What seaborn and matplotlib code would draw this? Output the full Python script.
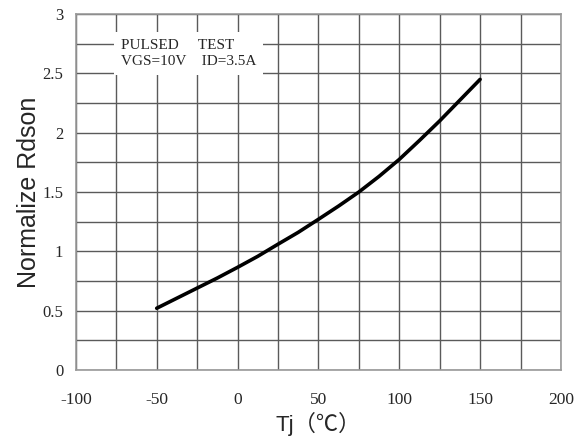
import matplotlib
matplotlib.use("Agg")
import matplotlib.pyplot as plt
import pandas as pd
import seaborn as sns

# values
TJ = [-50, -37.5, -25, -12.5, 0, 12.5, 25, 37.5, 50, 62.5, 75, 87.5, 100, 112.5, 125, 137.5, 150]
RDSON = [0.52, 0.605, 0.69, 0.775, 0.865, 0.958, 1.06, 1.16, 1.27, 1.382, 1.50, 1.632, 1.775, 1.935, 2.10, 2.275, 2.45]

X_TICKS = [-100, -50, 0, 50, 100, 150, 200]
Y_TICKS = [0, 0.5, 1, 1.5, 2, 2.5, 3]
Y_TICK_LABELS = ["0", "0.5", "1", "1.5", "2", "2.5", "3"]
X_GRID = list(range(-100, 201, 25))
Y_GRID = [i * 0.25 for i in range(13)]

NOTE = "PULSED     TEST\nVGS=10V    ID=3.5A"

sns.set_style("white")
plt.rcParams["font.family"] = ["Liberation Serif", "DejaVu Serif"]

df = pd.DataFrame({"Tj": TJ, "Rdson": RDSON})

fig, ax = plt.subplots(figsize=(5.88, 4.43), dpi=100)
fig.subplots_adjust(left=0.129, right=0.954, bottom=0.165, top=0.968)

for x in X_GRID:
    ax.axvline(x, color="#5a5a5a", linewidth=1.0, zorder=1)
for y in Y_GRID:
    ax.axhline(y, color="#5a5a5a", linewidth=1.0, zorder=1)

sns.lineplot(data=df, x="Tj", y="Rdson", color="black", linewidth=2.6, ax=ax, zorder=3)

ax.text(-72, 2.67, NOTE, fontsize=11, family="Liberation Serif", va="center",
        ha="left", linespacing=1.3, zorder=2,
        bbox=dict(facecolor="white", edgecolor="none", pad=5))

ax.set_xlim(-100, 200)
ax.set_ylim(0, 3)
ax.set_xticks(X_TICKS)
ax.set_xticklabels([str(v) for v in X_TICKS], fontsize=12.5)
ax.set_yticks(Y_TICKS)
ax.set_yticklabels(Y_TICK_LABELS, fontsize=12)
ax.tick_params(axis="x", length=0, pad=16)
ax.tick_params(axis="y", length=0, pad=9)

ax.set_xlabel("Tj（℃）", fontsize=16, family=["Liberation Sans", "Noto Sans CJK SC"], labelpad=3)
ax.set_ylabel("Normalize Rdson", fontsize=18, family="Liberation Sans", labelpad=1)

for spine in ax.spines.values():
    spine.set_color("#999999")
    spine.set_linewidth(1.2)
    spine.set_visible(True)

fig.savefig("out.png", dpi=100)
